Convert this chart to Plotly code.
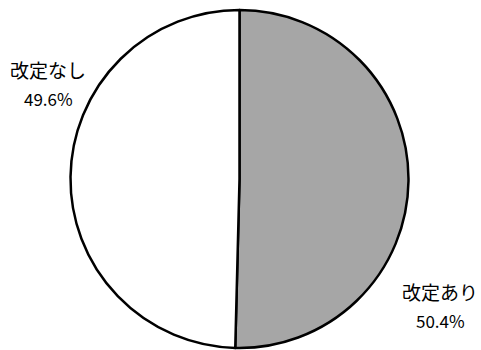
import plotly.graph_objects as go

labels = ["改定あり", "改定なし"]
values = [50.4, 49.6]
colors = ["#a6a6a6", "#ffffff"]
# label anchor positions in pixels (x, y from top) for each category
label_pos = [(440, 291), (48, 69)]

W, H = 481, 350

fig = go.Figure()
fig.add_trace(go.Pie(
    labels=labels,
    values=values,
    sort=False,
    direction="clockwise",
    rotation=0,
    marker=dict(colors=colors, line=dict(color="#000000", width=2.5)),
    textinfo="none",
    hoverinfo="label+percent",
    showlegend=False,
    domain=dict(x=[70 / W, 409 / W], y=[1 - 348 / H, 1 - 10 / H]),
))

font_name = "Noto Sans CJK JP"
for lab, val, (px, py) in zip(labels, values, label_pos):
    fig.add_annotation(
        x=px / W, y=1 - py / H, xref="paper", yref="paper",
        text=lab, showarrow=False, xanchor="center", yanchor="middle",
        font=dict(family=font_name, size=19, color="#000000"),
    )
    fig.add_annotation(
        x=px / W, y=1 - (py + 29) / H, xref="paper", yref="paper",
        text=f"{val:.1f}%", showarrow=False, xanchor="center", yanchor="middle",
        font=dict(family=font_name, size=17, color="#000000"),
    )

fig.update_layout(
    width=W, height=H,
    margin=dict(l=0, r=0, t=0, b=0),
    paper_bgcolor="#ffffff",
    plot_bgcolor="#ffffff",
)

fig.write_html(
    "out.html",
    config={"displayModeBar": False},
    post_script="document.body.style.margin='0';document.body.style.overflow='hidden';",
)
